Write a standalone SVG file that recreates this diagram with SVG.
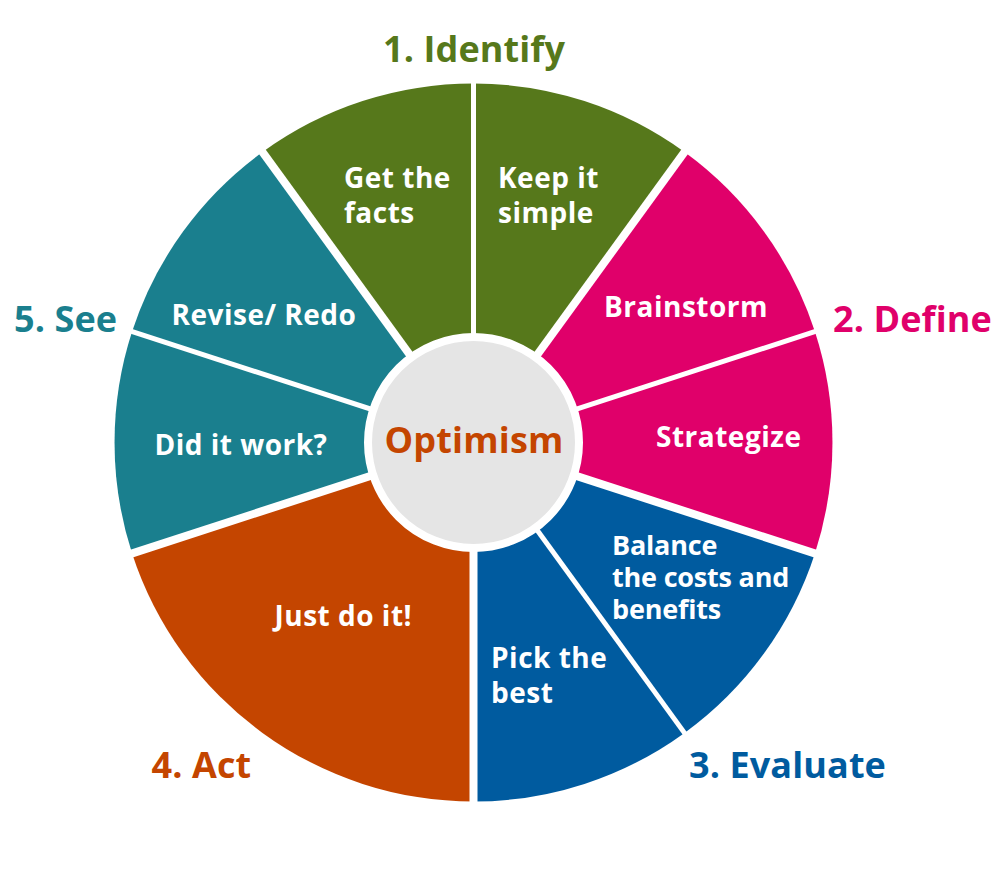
<svg xmlns="http://www.w3.org/2000/svg" width="1000" height="885" viewBox="0 0 1000 885">
<style>
text{font-family:"Open Sans","Noto Sans","Liberation Sans",sans-serif;font-weight:700}
.l{fill:#fff;font-size:28px;letter-spacing:.5px}
.s{fill:#fff;font-size:27px;letter-spacing:-.2px}
.h{font-size:36px;letter-spacing:.1px}
.green{fill:#56781b}.pink{fill:#e0006a}.blue{fill:#005b9f}.orange{fill:#c44500}.teal{fill:#1a7f8e}
.sep{stroke:#fff;stroke-width:5;fill:none}
.major{stroke-width:8}
</style>
<rect width="1000" height="885" fill="#fff"/>
<g id="wedge-get-the-facts"><path class="green" d="M473.500 442.500L262.500 152.100A359 359 0 0 1 473.500 83.500Z"/><text class="l" x="344" y="188">Get the</text><text class="l" x="344" y="223">facts</text></g>
<g id="wedge-keep-it-simple"><path class="green" d="M473.500 442.500L473.500 83.500A359 359 0 0 1 684.500 152.100Z"/><text class="l" x="498" y="188">Keep it</text><text class="l" x="498" y="223">simple</text></g>
<g id="wedge-brainstorm"><path class="pink" d="M473.500 442.500L684.500 152.100A359 359 0 0 1 814.900 331.600Z"/><text class="l" x="604" y="317">Brainstorm</text></g>
<g id="wedge-strategize"><path class="pink" d="M473.500 442.500L814.900 331.600A359 359 0 0 1 814.900 553.400Z"/><text class="l" x="656" y="447">Strategize</text></g>
<g id="wedge-balance"><path class="blue" d="M473.500 442.500L814.900 553.400A359 359 0 0 1 684.500 732.900Z"/><text class="s" x="612" y="555">Balance</text><text class="s" x="612" y="587">the costs and</text><text class="s" x="612" y="619">benefits</text></g>
<g id="wedge-pick"><path class="blue" d="M473.500 442.500L684.500 732.900A359 359 0 0 1 473.500 801.500Z"/><text class="l" x="491" y="668">Pick the</text><text class="l" x="491" y="703">best</text></g>
<g id="wedge-just-do-it"><path class="orange" d="M473.500 442.500L473.500 801.500A359 359 0 0 1 132.100 553.400Z"/><text class="l" x="274.500" y="626">Just do it!</text></g>
<g id="wedge-did-it-work"><path class="teal" d="M473.500 442.500L132.100 553.400A359 359 0 0 1 132.100 331.600Z"/><text class="l" x="154.500" y="455">Did it work?</text></g>
<g id="wedge-revise"><path class="teal" d="M473.500 442.500L132.100 331.600A359 359 0 0 1 262.500 152.100Z"/><text class="l" x="171.500" y="325">Revise/ Redo</text></g>
<g id="connectors">
<path class="sep" d="M473.500 442.500V76.500"/>
<path class="sep major" d="M473.500 442.500L688.600 146.400"/>
<path class="sep" d="M473.500 442.500L821.600 329.400"/>
<path class="sep major" d="M473.500 442.500L821.600 555.600"/>
<path class="sep" d="M473.500 442.500L688.600 738.600"/>
<path class="sep major" d="M473.500 442.500V808.500"/>
<path class="sep major" d="M473.500 442.500L125.400 555.600"/>
<path class="sep" d="M473.500 442.500L125.400 329.400"/>
<path class="sep major" d="M473.500 442.500L258.400 146.400"/>
</g>
<g id="center"><circle cx="473.500" cy="442.500" r="105.500" fill="#e5e5e5" stroke="#fff" stroke-width="8"/><text x="474" y="453" text-anchor="middle" font-size="36" style="letter-spacing:.2px" fill="#c44500">Optimism</text></g>
<g id="label-identify"><text class="h" x="383" y="62" fill="#56781b">1. Identify</text></g>
<g id="label-define"><text class="h" x="833" y="332" fill="#e0006a">2. Define</text></g>
<g id="label-evaluate"><text class="h" x="689" y="778" fill="#005b9f">3. Evaluate</text></g>
<g id="label-act"><text class="h" x="151.500" y="778" fill="#c44500">4. Act</text></g>
<g id="label-see"><text class="h" x="14" y="332" fill="#1a7f8e">5. See</text></g>
</svg>
